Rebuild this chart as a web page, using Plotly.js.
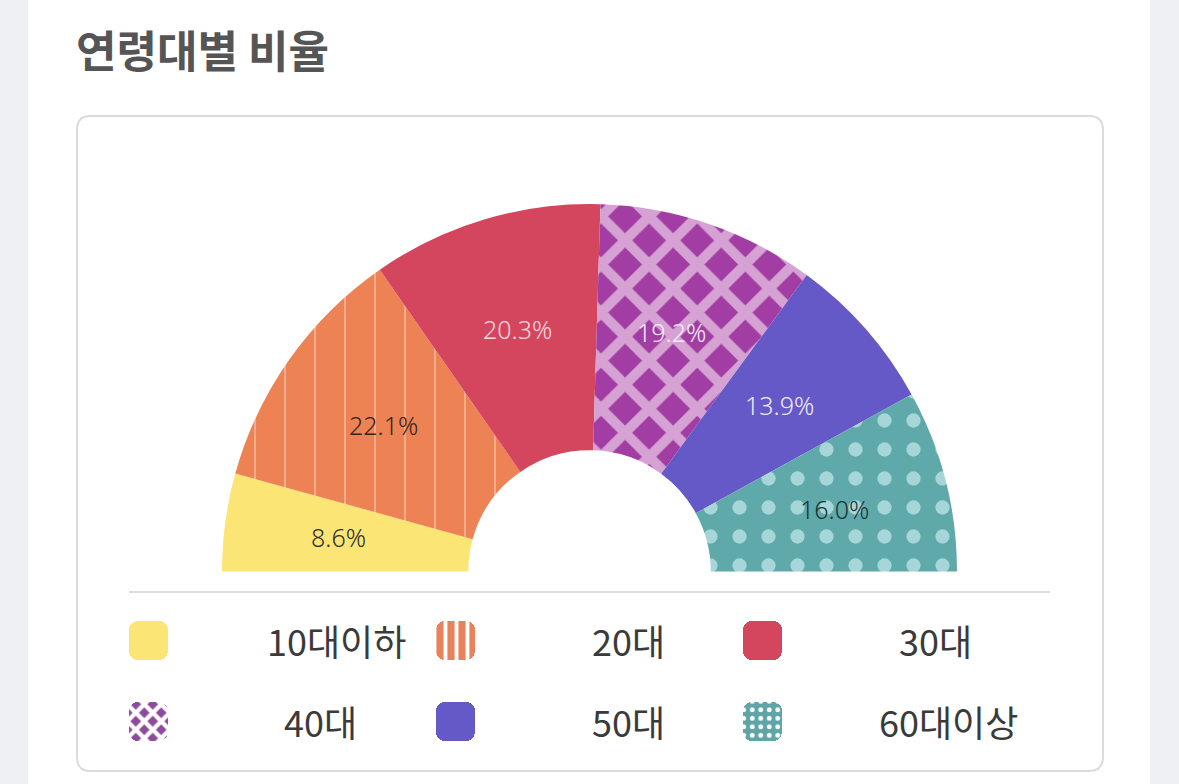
<!DOCTYPE html>
<html>
<head>
<meta charset="utf-8">
<script src="https://cdn.plot.ly/plotly-3.0.1.min.js"></script>
<style>
  html, body { margin: 0; padding: 0; overflow: hidden; background: #ffffff; }
  #chart { width: 1179px; height: 1000px; }
</style>
</head>
<body>
<div id="chart"></div>
<script>
// ---- data ----
var categories = ['10대이하', '20대', '30대', '40대', '50대', '60대이상'];
var shares = [8.6, 22.1, 20.3, 19.2, 13.9, 16.0];
var titleText = '연령대별 비율';

// ---- styles ----
var baseColors   = ['#fbe574', '#ed8354', '#d4465e', '#a23ea3', '#6459c6', '#5fa9ab'];
var patShapes    = ['', '|', '', 'x', '', '.'];
var patFg        = ['#fbe574', '#f9d2bc', '#d4465e', '#d6a2d4', '#6459c6', '#a6d6d7'];
var patSize      = [10, 30, 10, 34, 10, 29];
var patSolidity  = [0.3, 0.035, 0.3, 0.5, 0.3, 0.19];
var labelColors  = ['#2e2e2e', '#35241b', '#f9d9df', '#f8eef8', '#eeecfa', '#1a3435'];

// legend swatch styling
var swBase   = ['#fbe574', '#e8825a', '#d4465e', '#8e4a9c', '#6459c6', '#5fa4a6'];
var swShape  = ['', '|', '', 'x', '', '.'];
var swFg     = ['#fbe574', '#ffffff', '#d4465e', '#ffffff', '#6459c6', '#ffffff'];
var swSize   = [8, 11, 8, 12, 8, 8.5];
var swSolid  = [0.3, 0.35, 0.3, 0.6, 0.3, 0.25];

var W = 1179, H = 1000;
var cx = 589.5, cy = 571.5, R = 367.5, labelR = 253;

var total = shares.reduce(function (a, b) { return a + b; }, 0);

var pie = {
  type: 'pie',
  values: shares.concat([total]),
  labels: categories.concat(['__hidden']),
  sort: false,
  direction: 'clockwise',
  rotation: 270,
  hole: 0.33,
  domain: { x: [(cx - R) / W, (cx + R) / W], y: [1 - (cy + R) / H, 1 - (cy - R) / H] },
  marker: {
    colors: baseColors.concat(['rgba(0,0,0,0)']),
    line: { width: 0 },
    pattern: {
      shape: patShapes.concat(['']),
      fgcolor: patFg.concat(['rgba(0,0,0,0)']),
      fgopacity: 1,
      size: patSize.concat([10]),
      solidity: patSolidity.concat([0.3]),
      fillmode: 'overlay'
    }
  },
  textinfo: 'none',
  hoverinfo: 'none',
  showlegend: false
};

// percentage labels at the middle of each slice (angle derived from the data)
var annotations = [];
var cum = 0;
shares.forEach(function (v, i) {
  var mid = (cum + v / 2) / total * Math.PI; // 0 = left, PI = right, over the top
  cum += v;
  annotations.push({
    xref: 'x', yref: 'y',
    x: cx - labelR * Math.cos(mid),
    y: cy - labelR * Math.sin(mid),
    text: v.toFixed(1) + '%', showarrow: false, xanchor: 'center', yanchor: 'middle',
    font: { family: 'Noto Sans, sans-serif', size: 25, color: labelColors[i], weight: 300 }
  });
});

// ---- legend (custom, 3 columns) ----
var swLeft = [129, 436, 743];
var swTop = [621, 702];
var swW = 39;
var labelPos = [[336, 640], [628, 640], [935, 640], [320, 721], [628, 721], [948, 721]];

var swatchTraces = categories.map(function (c, i) {
  var col = i % 3, row = Math.floor(i / 3);
  return {
    type: 'bar',
    x: [swLeft[col] + swW / 2],
    y: [swW],
    base: [swTop[row]],
    width: [swW],
    marker: {
      color: swBase[i],
      cornerradius: 9,
      line: { width: 0 },
      pattern: { shape: swShape[i], fgcolor: swFg[i], fgopacity: 1, size: swSize[i], solidity: swSolid[i], fillmode: 'overlay' }
    },
    hoverinfo: 'skip',
    showlegend: false,
    xaxis: 'x', yaxis: 'y'
  };
});

categories.forEach(function (c, i) {
  annotations.push({
    xref: 'x', yref: 'y', x: labelPos[i][0], y: labelPos[i][1],
    text: c, showarrow: false, xanchor: 'center', yanchor: 'middle',
    font: { family: 'Noto Sans CJK KR, sans-serif', size: 36, color: '#3a3a3a' }
  });
});

var shapes = [
  { type: 'rect', xref: 'x', yref: 'y', x0: 0, x1: 28, y0: 0, y1: H, fillcolor: '#eef0f4', line: { width: 0 }, layer: 'below' },
  { type: 'rect', xref: 'x', yref: 'y', x0: 1150, x1: W, y0: 0, y1: H, fillcolor: '#eef0f4', line: { width: 0 }, layer: 'below' },
  { type: 'path', xref: 'x', yref: 'y', layer: 'below',
    path: 'M 90 116 L 1089 116 Q 1103 116 1103 130 L 1103 757 Q 1103 771 1089 771 L 90 771 Q 77 771 77 757 L 77 130 Q 77 116 90 116 Z',
    fillcolor: '#ffffff', line: { color: '#dadbdc', width: 2 } },
  { type: 'line', xref: 'x', yref: 'y', x0: 129, x1: 1050, y0: 592, y1: 592, line: { color: '#dedede', width: 2 }, layer: 'above' }
];

var layout = {
  width: W, height: H,
  margin: { l: 0, r: 0, t: 0, b: 0 },
  paper_bgcolor: '#ffffff',
  plot_bgcolor: 'rgba(0,0,0,0)',
  title: {
    text: '<b>' + titleText + '</b>',
    x: 76 / W, xanchor: 'left', xref: 'paper',
    y: 1 - 53 / H, yanchor: 'middle', yref: 'container',
    font: { family: 'Noto Sans CJK KR, sans-serif', size: 44, color: '#555555' }
  },
  xaxis: { range: [0, W], domain: [0, 1], visible: false, fixedrange: true },
  yaxis: { range: [H, 0], domain: [0, 1], visible: false, fixedrange: true },
  bargap: 0,
  barmode: 'overlay',
  showlegend: false,
  shapes: shapes,
  annotations: annotations
};

Plotly.newPlot('chart', swatchTraces.concat([pie]), layout, { displayModeBar: false, staticPlot: true });
</script>
</body>
</html>
